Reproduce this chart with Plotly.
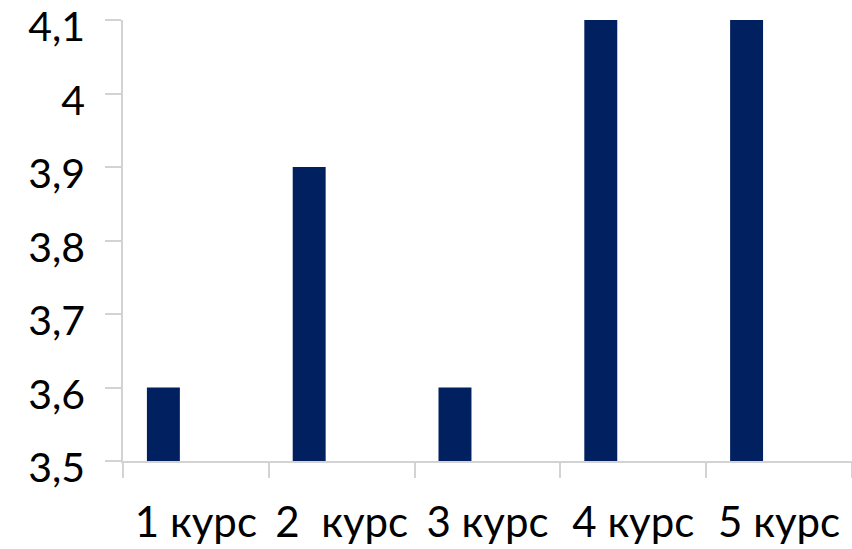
import plotly.graph_objects as go

categories = ["1 курс", "2  курс", "3 курс", "4 курс", "5 курс"]
values = [3.6, 3.9, 3.6, 4.1, 4.1]
y_ticks = [3.5, 3.6, 3.7, 3.8, 3.9, 4.0, 4.1]

FONT = "Lato"
AXIS = "#d3d3d3"

fig = go.Figure(go.Bar(
    x=categories, y=values,
    marker=dict(color="#002060", line=dict(width=0)),
    width=0.226, offset=-0.336,
    hoverinfo="skip",
))

fig.update_layout(
    width=852, height=549,
    margin=dict(l=123, r=0, t=20, b=88),
    plot_bgcolor="white", paper_bgcolor="white",
    separators=", ",
    showlegend=False,
    font=dict(family=FONT, size=40, color="#000000"),
)
fig.update_xaxes(
    type="category", tickson="boundaries",
    showline=True, linecolor=AXIS, linewidth=1.5,
    ticks="outside", ticklen=15, tickcolor=AXIS, tickwidth=1.5,
    ticklabelstandoff=24, automargin=False,
    showgrid=False, zeroline=False,
    tickfont=dict(family=FONT, size=42),
)
fig.update_yaxes(
    range=[3.5, 4.1000001], tickvals=y_ticks,
    showline=True, linecolor=AXIS, linewidth=1.5,
    ticks="outside", ticklen=16, tickcolor=AXIS, tickwidth=1.5,
    ticklabelstandoff=12, ticklabelshift=7,
    automargin=False, ticklabeloverflow="allow",
    showgrid=False, zeroline=False,
    tickfont=dict(family=FONT, size=41),
)

fig.write_html(
    "out.html",
    config={"displayModeBar": False},
    post_script="document.body.style.margin='0';",
)
